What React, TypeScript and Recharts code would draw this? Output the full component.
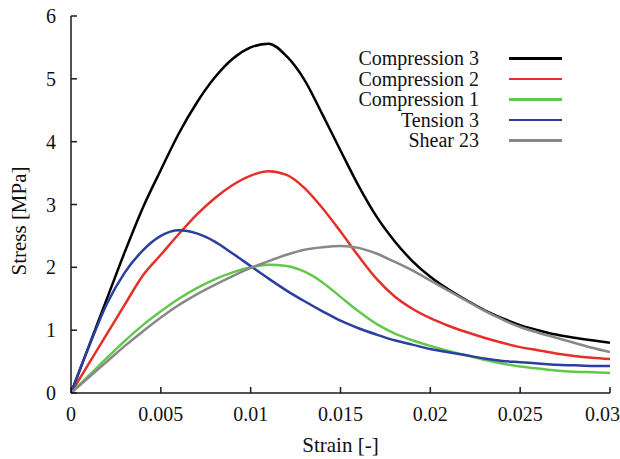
import React from "react"
import { LineChart, Line, XAxis, YAxis } from "recharts"

const strain = [
  0, 0.001, 0.002, 0.003, 0.004, 0.005, 0.006, 0.007, 0.008, 0.009, 0.01,
  0.011, 0.012, 0.013, 0.014, 0.015, 0.016, 0.017, 0.018, 0.019, 0.02,
  0.021, 0.022, 0.023, 0.024, 0.025, 0.026, 0.027, 0.028, 0.029, 0.03,
]

const compression3 = [
  0, 0.75, 1.5, 2.25, 2.95, 3.55, 4.13, 4.62, 5.02, 5.32, 5.5,
  5.56, 5.36, 4.98, 4.43, 3.86, 3.3, 2.81, 2.42, 2.1, 1.85,
  1.65, 1.48, 1.32, 1.19, 1.08, 1.0, 0.93, 0.88, 0.84, 0.8,
]
const compression2 = [
  0, 0.47, 0.94, 1.41, 1.87, 2.2, 2.53, 2.84, 3.1, 3.31, 3.46,
  3.53, 3.47, 3.26, 2.94, 2.57, 2.18, 1.82, 1.54, 1.34, 1.19,
  1.07, 0.97, 0.88, 0.8, 0.73, 0.68, 0.63, 0.59, 0.56, 0.54,
]
const compression1 = [
  0, 0.28, 0.56, 0.83, 1.08, 1.3, 1.5, 1.67, 1.81, 1.92, 2.0,
  2.04, 2.02, 1.93, 1.76, 1.53, 1.3, 1.1, 0.95, 0.84, 0.75,
  0.67, 0.6, 0.53, 0.47, 0.42, 0.39, 0.36, 0.34, 0.33, 0.32,
]
const tension3 = [
  0, 0.74, 1.42, 1.92, 2.27, 2.5, 2.59, 2.54, 2.41, 2.22, 2.02,
  1.82, 1.63, 1.46, 1.3, 1.15, 1.03, 0.93, 0.84, 0.77, 0.7,
  0.65, 0.6, 0.55, 0.51, 0.49, 0.47, 0.45, 0.44, 0.43, 0.43,
]
const shear23 = [
  0, 0.25, 0.5, 0.75, 0.98, 1.2, 1.4, 1.57, 1.72, 1.86, 1.99,
  2.1, 2.2, 2.28, 2.32, 2.34, 2.31, 2.22, 2.09, 1.95, 1.79,
  1.63, 1.47, 1.31, 1.17, 1.05, 0.96, 0.88, 0.8, 0.72, 0.65,
]

const xTicks = [0, 0.005, 0.01, 0.015, 0.02, 0.025, 0.03]
const yTicks = [0, 1, 2, 3, 4, 5, 6]

const series = [
  { key: "c3", name: "Compression 3", color: "#000000", values: compression3 },
  { key: "c2", name: "Compression 2", color: "#e5302a", values: compression2 },
  { key: "c1", name: "Compression 1", color: "#62c84a", values: compression1 },
  { key: "t3", name: "Tension 3", color: "#2b3fa0", values: tension3 },
  { key: "s23", name: "Shear 23", color: "#888888", values: shear23 },
]

const data = strain.map((s, i) => {
  const row: Record<string, number> = { strain: s }
  series.forEach((sr) => {
    row[sr.key] = sr.values[i]
  })
  return row
})

const font = "Liberation Serif, DejaVu Serif, serif"
const axisColor = "#1a1a1a"
const textColor = "#111"

function YLabel(props: any) {
  const vb = props.viewBox || { x: 0 }
  const cx = vb.x + 19
  const cy = 221
  return (
    <text
      x={cx}
      y={cy}
      transform={`rotate(-90 ${cx} ${cy})`}
      textAnchor="middle"
      dominantBaseline="central"
      fontSize={21}
      style={{ fontFamily: font }}
      fill={textColor}
    >
      Stress [MPa]
    </text>
  )
}

function XLabel() {
  return (
    <text
      x={340.5}
      y={445}
      textAnchor="middle"
      dominantBaseline="central"
      fontSize={21}
      style={{ fontFamily: font }}
      fill={textColor}
    >
      Strain [-]
    </text>
  )
}

function ChartLegend() {
  return (
    <div style={{ position: "absolute", left: 0, top: 48, width: 620 }}>
      {series.map((s) => (
        <div key={s.key} style={{ position: "relative", height: 20.5 }}>
          <span
            style={{
              position: "absolute",
              right: 620 - 479,
              top: 0,
              lineHeight: "20.5px",
              fontSize: 20,
              fontFamily: font,
              color: textColor,
              whiteSpace: "nowrap",
            }}
          >
            {s.name}
          </span>
          <div
            style={{
              position: "absolute",
              left: 509,
              top: 9,
              width: 53,
              height: 2.5,
              background: s.color,
            }}
          />
        </div>
      ))}
    </div>
  )
}

export default function App() {
  return (
    <div style={{ position: "absolute", left: 0, top: 0, width: 620, height: 459, background: "#fff", fontFamily: font }}>
      <LineChart
        width={620}
        height={459}
        data={data}
        margin={{ top: 16, right: 10, bottom: 0, left: 0 }}
        style={{ fontFamily: font }}
      >
        <XAxis
          dataKey="strain"
          type="number"
          domain={[0, 0.03]}
          ticks={xTicks}
          allowDataOverflow
          height={66}
          tickSize={-6}
          tickMargin={20}
          tickFormatter={(v: number) => String(v)}
          tick={{ fill: textColor, fontSize: 20, style: { fontFamily: font } }}
          stroke={axisColor}
          strokeWidth={1.5}
          label={<XLabel />}
        />
        <XAxis
          xAxisId="top"
          orientation="top"
          type="number"
          domain={[0, 0.03]}
          ticks={xTicks}
          allowDataOverflow
          height={0}
          tickSize={-6}
          tick={false}
          stroke={axisColor}
          strokeWidth={1.5}
        />
        <YAxis
          type="number"
          domain={[0, 6]}
          ticks={yTicks}
          allowDataOverflow
          width={71}
          tickSize={-6}
          tickMargin={21}
          tick={{ fill: textColor, fontSize: 20, style: { fontFamily: font } }}
          stroke={axisColor}
          strokeWidth={1.5}
          label={<YLabel />}
        />
        <YAxis
          yAxisId="right"
          orientation="right"
          type="number"
          domain={[0, 6]}
          ticks={yTicks}
          allowDataOverflow
          width={0}
          tickSize={-6}
          tick={false}
          stroke={axisColor}
          strokeWidth={1.5}
        />
        {series.map((s) => (
          <Line
            key={s.key}
            type="monotone"
            dataKey={s.key}
            name={s.name}
            stroke={s.color}
            strokeWidth={2.5}
            dot={false}
            isAnimationActive={false}
          />
        ))}
      </LineChart>
      <ChartLegend />
    </div>
  )
}
